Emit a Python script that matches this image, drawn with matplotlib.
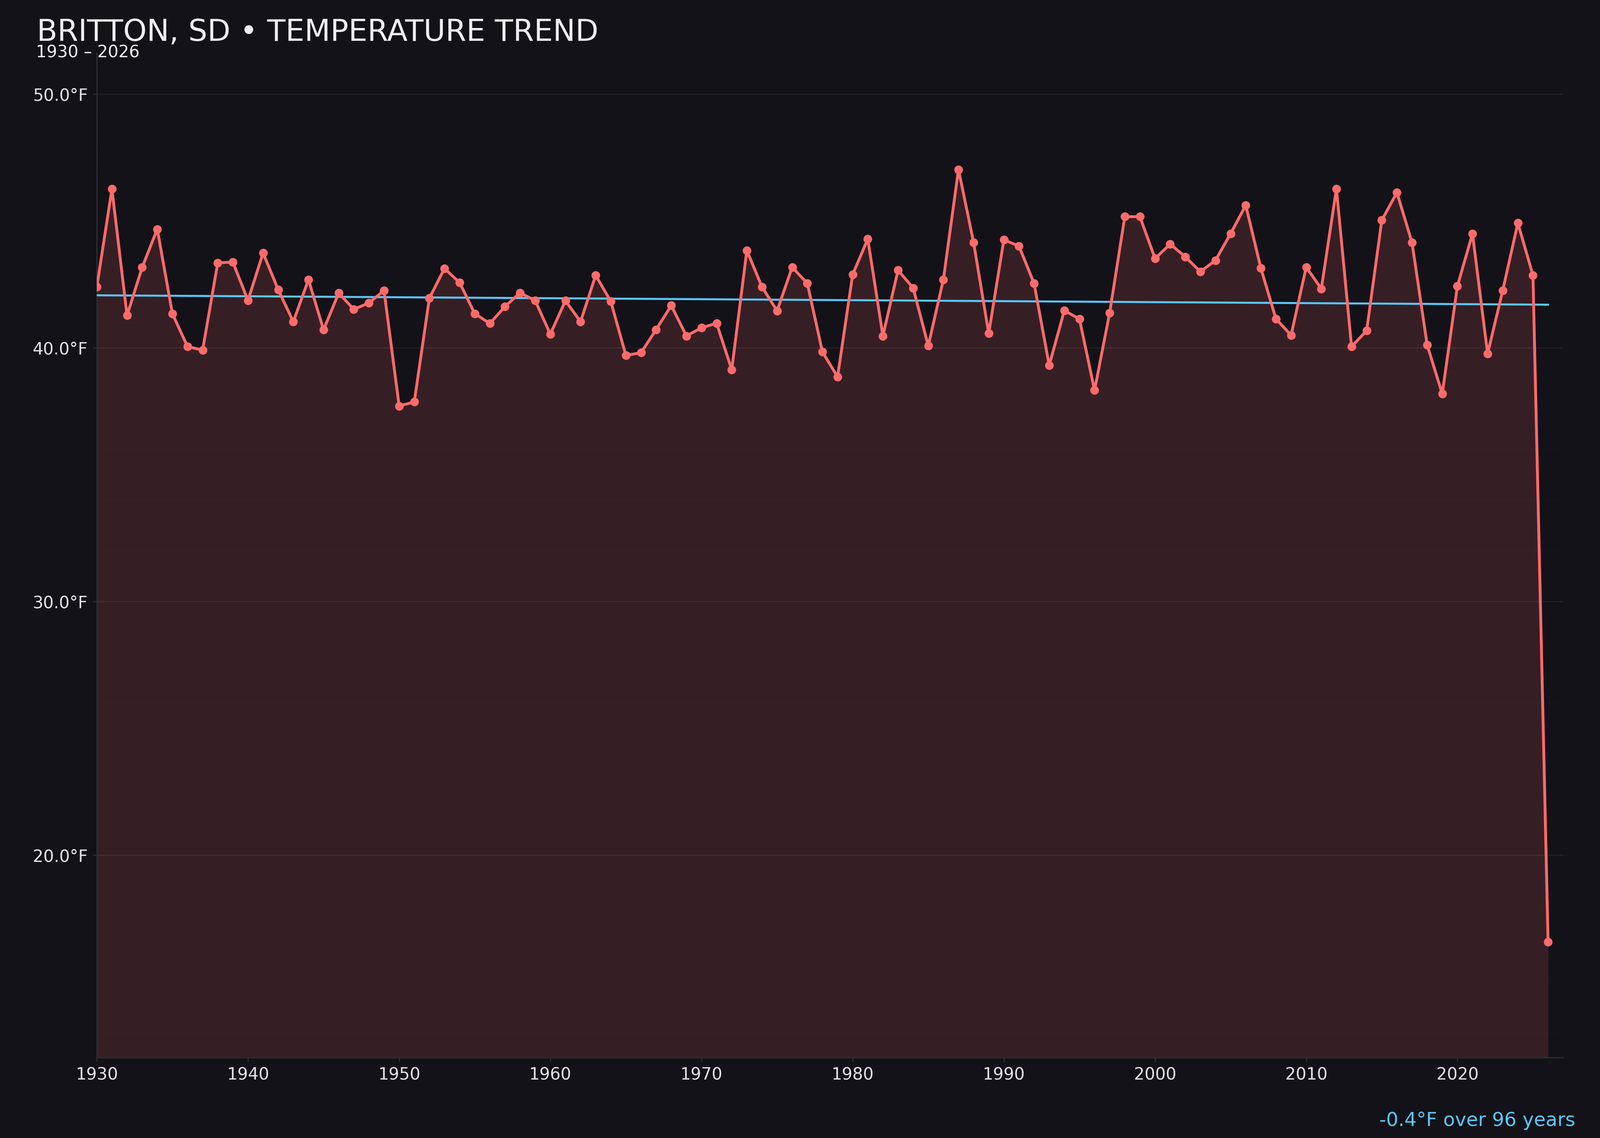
import numpy as np
import matplotlib
matplotlib.use("Agg")
import matplotlib.pyplot as plt
from matplotlib.ticker import MultipleLocator, FuncFormatter

# ---------------- data ----------------
years = list(range(1930, 2027))
temps = [
    42.39, 46.25, 41.27, 43.16, 44.67, 41.34, 40.04, 39.90, 43.34, 43.37,  # 1930s
    41.86, 43.73, 42.28, 41.02, 42.68, 40.70, 42.15, 41.51, 41.76, 42.25,  # 1940s
    37.70, 37.86, 41.95, 43.12, 42.56, 41.34, 40.95, 41.62, 42.16, 41.85,  # 1950s
    40.53, 41.85, 41.02, 42.85, 41.82, 39.69, 39.80, 40.71, 41.66, 40.46,  # 1960s
    40.78, 40.96, 39.13, 43.83, 42.39, 41.45, 43.17, 42.53, 39.83, 38.85,  # 1970s
    42.88, 44.28, 40.46, 43.05, 42.35, 40.07, 42.68, 47.02, 44.14, 40.56,  # 1980s
    44.25, 44.00, 42.53, 39.30, 41.46, 41.13, 38.32, 41.37, 45.16, 45.16,  # 1990s
    43.51, 44.08, 43.58, 42.99, 43.44, 44.49, 45.61, 43.13, 41.13, 40.49,  # 2000s
    43.17, 42.32, 46.26, 40.04, 40.67, 45.02, 46.11, 44.14, 40.11, 38.18,  # 2010s
    42.42, 44.49, 39.76, 42.25, 44.91, 42.85, 16.58,                       # 2020s
]
title_text = "BRITTON, SD \u2022 TEMPERATURE TREND"
subtitle_text = f"{years[0]} \u2013 {years[-1]}"

# ---------------- style ----------------
BG = "#131218"
LINE = "#ff6b6b"
TREND = "#5ac8fa"
TEXT = "#f0eef5"
TICKTXT = "#e4e2ea"
SPINE = "#2c2b34"

x = np.array(years, dtype=float)
y = np.array(temps, dtype=float)

coef = np.polyfit(x, y, 1)
trend = np.polyval(coef, x)
span = years[-1] - years[0]
change = coef[0] * span

fig = plt.figure(figsize=(4000 / 300, 2844 / 300), dpi=300, facecolor=BG)
ax = fig.add_axes([0.0605, 0.0705, 0.9165, 0.8824])
ax.set_facecolor(BG)

rng = y.max() - y.min()
ymin = y.min() - 0.15 * rng
ymax = y.max() + 0.15 * rng
ax.set_ylim(ymin, ymax)
ax.set_xlim(years[0], years[-1] + 1)

ax.fill_between(x, y, ymin, color=LINE, alpha=0.15, linewidth=0, zorder=1)
ax.plot(x, trend, color=TREND, lw=1.2, zorder=3)
ax.plot(x, y, color=LINE, lw=1.7, marker="o", markersize=4.2, zorder=4)

ax.yaxis.set_major_locator(MultipleLocator(10))
ax.yaxis.set_minor_locator(MultipleLocator(1))
ax.xaxis.set_major_locator(MultipleLocator(10))
ax.yaxis.set_major_formatter(FuncFormatter(lambda v, p: f"{v:.1f}\u00b0F"))
ax.xaxis.set_major_formatter(FuncFormatter(lambda v, p: f"{int(v)}"))

ax.grid(axis="y", which="major", color="white", alpha=0.06, lw=0.8, zorder=2)
ax.grid(axis="y", which="minor", color="white", alpha=0.013, lw=0.6, zorder=2)
ax.grid(axis="x", visible=False)

for s in ["top", "right"]:
    ax.spines[s].set_visible(False)
for s in ["left", "bottom"]:
    ax.spines[s].set_color(SPINE)
    ax.spines[s].set_linewidth(0.8)

ax.tick_params(axis="both", which="major", colors=SPINE, labelcolor=TICKTXT,
               labelsize=10, length=2.5, width=0.8, pad=2.8)
ax.tick_params(axis="y", which="minor", length=0)

fig.text(0.023, 0.964, title_text, color=TEXT, fontsize=18, va="baseline", ha="left")
fig.text(0.0225, 0.9497, subtitle_text, color=TEXT, fontsize=10, va="baseline", ha="left")
fig.text(0.9845, 0.0105, f"{change:.1f}\u00b0F over {span} years", color=TREND,
         fontsize=11.5, va="baseline", ha="right")

fig.savefig("out.png", dpi=300, facecolor=BG)
